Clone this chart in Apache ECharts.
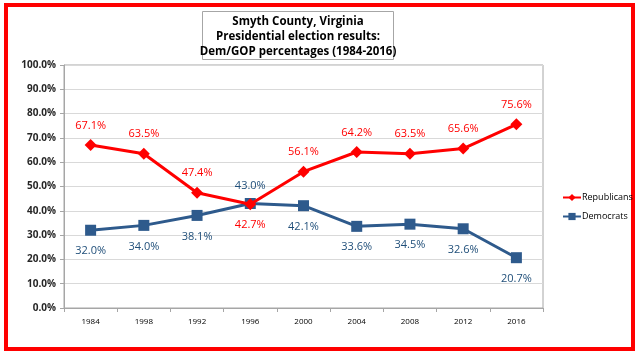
<!DOCTYPE html>
<html>
<head>
<meta charset="utf-8">
<script src="https://cdn.jsdelivr.net/npm/echarts@6/dist/echarts.min.js"></script>
<style>
html, body { margin: 0; padding: 0; background: #fff; }
#chart { width: 640px; height: 354px; }
</style>
</head>
<body>
<div id="chart"></div>
<script>
// data
var years = ['1984', '1998', '1992', '1996', '2000', '2004', '2008', '2012', '2016'];
var repValues = [67.1, 63.5, 47.4, 42.7, 56.1, 64.2, 63.5, 65.6, 75.6];
var demValues = [32.0, 34.0, 38.1, 43.0, 42.1, 33.6, 34.5, 32.6, 20.7];
var titleLines = ['Smyth County, Virginia', 'Presidential election results:', 'Dem/GOP percentages (1984-2016)'];

var RED = '#ff0000';
var BLUE = '#2e5a8c';
var BLUE_TXT = '#1f4e79';
var FONT = '"Open Sans", "Liberation Sans", sans-serif';

// 1996 labels swap sides
function repData() {
	var out = [];
	for (var i = 0; i < repValues.length; i++) {
		var d = { value: repValues[i] };
		if (repValues[i] < demValues[i]) d.label = { position: 'bottom', distance: 9 };
		out.push(d);
	}
	return out;
}
function demData() {
	var out = [];
	for (var i = 0; i < demValues.length; i++) {
		var d = { value: demValues[i] };
		if (demValues[i] > repValues[i]) d.label = { position: 'top', distance: 7 };
		out.push(d);
	}
	return out;
}

var option = {
	animation: false,
	textStyle: { fontFamily: FONT },
	graphic: [{
		type: 'rect',
		shape: { x: 6, y: 5, width: 627, height: 344 },
		style: { fill: 'none', stroke: RED, lineWidth: 4 }
	}, {
		type: 'rect',
		shape: { x: 202.5, y: 11.5, width: 191, height: 48 },
		style: { fill: '#fff', stroke: '#a6a6a6', lineWidth: 1 }
	}, {
		type: 'text',
		x: 298, y: 14,
		style: {
			text: titleLines.join('\n'),
			textAlign: 'center',
			fill: '#000',
			font: 'bold 11.5px ' + FONT,
			lineHeight: 15
		}
	}],
	grid: {
		left: 64, right: 97, top: 65, bottom: 46,
		show: true, borderColor: '#a6a6a6', borderWidth: 1
	},
	legend: {
		orient: 'vertical',
		left: 557, top: 188,
		itemWidth: 18, itemHeight: 9, itemGap: 10,
		textStyle: { fontSize: 9, color: '#000', padding: [0, 0, 0, -4] },
		data: ['Republicans', 'Democrats']
	},
	xAxis: {
		type: 'category',
		data: years,
		axisLine: { lineStyle: { color: '#a6a6a6' } },
		axisTick: { show: true, length: 4, lineStyle: { color: '#a6a6a6' } },
		axisLabel: { fontSize: 8, color: '#000', margin: 10 }
	},
	yAxis: {
		type: 'value',
		min: 0, max: 100, interval: 10,
		axisLine: { show: true, lineStyle: { color: '#a6a6a6' } },
		axisTick: { show: true, length: 4, lineStyle: { color: '#a6a6a6' } },
		splitLine: { lineStyle: { color: '#d9d9d9' } },
		axisLabel: {
			fontSize: 10, color: '#262626', margin: 8, fontWeight: 'bold',
			formatter: function(v) { return v.toFixed(1) + '%'; }
		}
	},
	series: [{
		name: 'Republicans',
		type: 'line',
		data: repData(),
		symbol: 'diamond', symbolSize: 12,
		itemStyle: { color: RED },
		lineStyle: { color: RED, width: 3 },
		label: {
			show: true, position: 'top', distance: 8,
			fontSize: 11, color: RED,
			formatter: function(p) { return p.value.toFixed(1) + '%'; }
		},
		z: 3
	}, {
		name: 'Democrats',
		type: 'line',
		data: demData(),
		symbol: 'rect', symbolSize: 11,
		itemStyle: { color: BLUE },
		lineStyle: { color: BLUE, width: 3 },
		label: {
			show: true, position: 'bottom', distance: 10,
			fontSize: 11, color: BLUE_TXT,
			formatter: function(p) { return p.value.toFixed(1) + '%'; }
		},
		z: 2
	}]
};

var myChart = echarts.init(document.getElementById('chart'));
myChart.setOption(option);
</script>
</body>
</html>
